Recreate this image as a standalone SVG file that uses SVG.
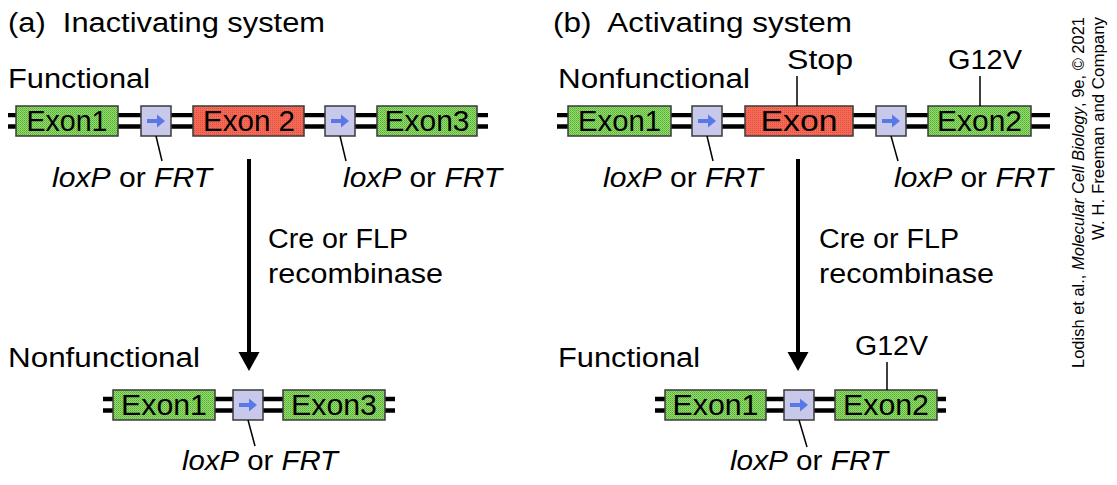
<svg xmlns="http://www.w3.org/2000/svg" width="1117" height="485" viewBox="0 0 1117 485">
<defs>
<pattern id="pg" width="2" height="2" patternUnits="userSpaceOnUse">
<rect width="2" height="2" fill="#92e06c"/>
<rect width="1" height="1" fill="#5aa83c"/>
<rect x="1" y="1" width="1" height="1" fill="#6cbc48"/>
</pattern>
<pattern id="pr" width="2" height="2" patternUnits="userSpaceOnUse">
<rect width="2" height="2" fill="#f46a56"/>
<rect width="1" height="1" fill="#e0503e"/>
</pattern>
<g id="lox">
<rect x="-15" y="-15" width="30" height="30" fill="#c8c8ea" stroke="#3a3a3a" stroke-width="1.5"/>
<path d="M-9,-2 H1 V-6.5 L9,0 L1,6.5 V2 H-9 Z" fill="#5878e8"/>
</g>
</defs>
<style>
.t{font-family:"Liberation Sans",Arial,sans-serif;font-size:27px;fill:#000}
.ex{font-family:"Liberation Sans",Arial,sans-serif;font-size:30px;fill:#000;text-anchor:middle}
.it{font-style:italic}
.dna{stroke:#000;stroke-width:4.3;fill:none}
.g{fill:url(#pg);stroke:#3a3a3a;stroke-width:1.5}
.r{fill:url(#pr);stroke:#3a3a3a;stroke-width:1.5}
.ptr{stroke:#000;stroke-width:1.5;fill:none}
.arr{stroke:#000;stroke-width:4;fill:none}
.cr{font-family:"Liberation Sans",Arial,sans-serif;font-size:17px;fill:#000;text-anchor:end}
</style>

<!-- Panel a -->
<g id="title-a"><text class="t" x="8" y="32" textLength="317" lengthAdjust="spacingAndGlyphs">(a)&#160; Inactivating system</text></g>
<g id="label-a-functional"><text class="t" x="8" y="88" textLength="142" lengthAdjust="spacingAndGlyphs">Functional</text></g>

<g id="dna-a-top">
<path class="dna" d="M8,115.2 H488 M8,126.5 H488"/>
</g>
<g id="a-exon1"><rect class="g" x="16" y="106" width="102" height="30"/><text class="ex" x="67" y="131" textLength="81" lengthAdjust="spacingAndGlyphs">Exon1</text></g>
<g id="a-lox1"><use href="#lox" x="156" y="121"/></g>
<g id="a-exon2"><rect class="r" x="193" y="106" width="111" height="30"/><text class="ex" x="249" y="131" textLength="92" lengthAdjust="spacingAndGlyphs">Exon 2</text></g>
<g id="a-lox2"><use href="#lox" x="340" y="121"/></g>
<g id="a-exon3"><rect class="g" x="377" y="106" width="100" height="30"/><text class="ex" x="427" y="131" textLength="85" lengthAdjust="spacingAndGlyphs">Exon3</text></g>

<g id="a-lox1-label"><text class="t" x="52" y="187" textLength="160" lengthAdjust="spacingAndGlyphs"><tspan class="it">loxP</tspan> or <tspan class="it">FRT</tspan></text></g>
<g id="a-lox2-label"><text class="t" x="343" y="187" textLength="159" lengthAdjust="spacingAndGlyphs"><tspan class="it">loxP</tspan> or <tspan class="it">FRT</tspan></text></g>

<g id="a-recombinase"><text class="t" x="268" y="248" textLength="140" lengthAdjust="spacingAndGlyphs">Cre or FLP</text><text class="t" x="268" y="283" textLength="175" lengthAdjust="spacingAndGlyphs">recombinase</text></g>

<g id="label-a-nonfunctional"><text class="t" x="8" y="367" textLength="192" lengthAdjust="spacingAndGlyphs">Nonfunctional</text></g>

<g id="dna-a-bottom">
<path class="dna" d="M103,399 H395 M103,410.5 H395"/>
</g>
<g id="a2-exon1"><rect class="g" x="113" y="390" width="102" height="30"/><text class="ex" x="164" y="415" textLength="86" lengthAdjust="spacingAndGlyphs">Exon1</text></g>
<g id="a2-lox"><use href="#lox" x="248" y="405"/></g>
<g id="a2-exon3"><rect class="g" x="283" y="390" width="102" height="30"/><text class="ex" x="334" y="415" textLength="86" lengthAdjust="spacingAndGlyphs">Exon3</text></g>
<g id="a2-lox-label"><text class="t" x="182" y="470" textLength="156" lengthAdjust="spacingAndGlyphs"><tspan class="it">loxP</tspan> or <tspan class="it">FRT</tspan></text></g>

<!-- Panel b -->
<g id="title-b"><text class="t" x="553" y="32" textLength="299" lengthAdjust="spacingAndGlyphs">(b)&#160; Activating system</text></g>
<g id="label-b-nonfunctional"><text class="t" x="558" y="88" textLength="192" lengthAdjust="spacingAndGlyphs">Nonfunctional</text></g>
<g id="b-stop-label"><text class="t" x="787" y="69" textLength="66" lengthAdjust="spacingAndGlyphs">Stop</text></g>
<g id="b-g12v-label"><text class="t" x="948" y="69" textLength="74" lengthAdjust="spacingAndGlyphs">G12V</text></g>

<g id="dna-b-top">
<path class="dna" d="M557,115.2 H1050 M557,126.5 H1050"/>
</g>
<g id="b-exon1"><rect class="g" x="568" y="106" width="103" height="30"/><text class="ex" x="619.5" y="131" textLength="83" lengthAdjust="spacingAndGlyphs">Exon1</text></g>
<g id="b-lox1"><use href="#lox" x="707" y="121"/></g>
<g id="b-exon"><rect class="r" x="745" y="106" width="108" height="30"/><text class="ex" x="799" y="131" textLength="77" lengthAdjust="spacingAndGlyphs">Exon</text></g>
<g id="b-lox2"><use href="#lox" x="891" y="121"/></g>
<g id="b-exon2"><rect class="g" x="928" y="106" width="103" height="30"/><text class="ex" x="979.5" y="131" textLength="85" lengthAdjust="spacingAndGlyphs">Exon2</text></g>

<g id="b-lox1-label"><text class="t" x="603" y="187" textLength="160" lengthAdjust="spacingAndGlyphs"><tspan class="it">loxP</tspan> or <tspan class="it">FRT</tspan></text></g>
<g id="b-lox2-label"><text class="t" x="894" y="187" textLength="159" lengthAdjust="spacingAndGlyphs"><tspan class="it">loxP</tspan> or <tspan class="it">FRT</tspan></text></g>

<g id="b-recombinase"><text class="t" x="819" y="248" textLength="140" lengthAdjust="spacingAndGlyphs">Cre or FLP</text><text class="t" x="819" y="283" textLength="175" lengthAdjust="spacingAndGlyphs">recombinase</text></g>

<g id="label-b-functional"><text class="t" x="558" y="367" textLength="142" lengthAdjust="spacingAndGlyphs">Functional</text></g>
<g id="b2-g12v-label"><text class="t" x="855" y="355" textLength="73" lengthAdjust="spacingAndGlyphs">G12V</text></g>

<g id="dna-b-bottom">
<path class="dna" d="M655,399 H946 M655,410.5 H946"/>
</g>
<g id="b2-exon1"><rect class="g" x="665" y="390" width="101" height="30"/><text class="ex" x="715.5" y="415" textLength="86" lengthAdjust="spacingAndGlyphs">Exon1</text></g>
<g id="b2-lox"><use href="#lox" x="799" y="405"/></g>
<g id="b2-exon2"><rect class="g" x="835" y="390" width="102" height="30"/><text class="ex" x="886" y="415" textLength="86" lengthAdjust="spacingAndGlyphs">Exon2</text></g>
<g id="b2-lox-label"><text class="t" x="730" y="470" textLength="158" lengthAdjust="spacingAndGlyphs"><tspan class="it">loxP</tspan> or <tspan class="it">FRT</tspan></text></g>

<!-- Connectors -->
<g id="connectors">
<path class="ptr" d="M156,136 L162,161"/>
<path class="ptr" d="M340,136 L346,161"/>
<path class="ptr" d="M248,420 L255,446"/>
<path class="ptr" d="M707,136 L713,161"/>
<path class="ptr" d="M891,136 L898,161"/>
<path class="ptr" d="M797,76 V106"/>
<path class="ptr" d="M980,76 V106"/>
<path class="ptr" d="M887,362 V390"/>
<path class="ptr" d="M799,420 L807,447"/>
<path class="arr" d="M249,159 V356"/>
<path d="M238.5,352 L259.5,352 L249,371 Z" fill="#000"/>
<path class="arr" d="M798,159 V356"/>
<path d="M787.5,352 L808.5,352 L798,371 Z" fill="#000"/>
</g>

<!-- Credit -->
<g id="credit">
<text class="cr" transform="translate(1084,17) rotate(-90)" textLength="351" lengthAdjust="spacingAndGlyphs">Lodish et al., <tspan class="it">Molecular Cell Biology</tspan>, 9e, © 2021</text>
<text class="cr" transform="translate(1104,17) rotate(-90)" textLength="223" lengthAdjust="spacingAndGlyphs">W. H. Freeman and Company</text>
</g>
</svg>
